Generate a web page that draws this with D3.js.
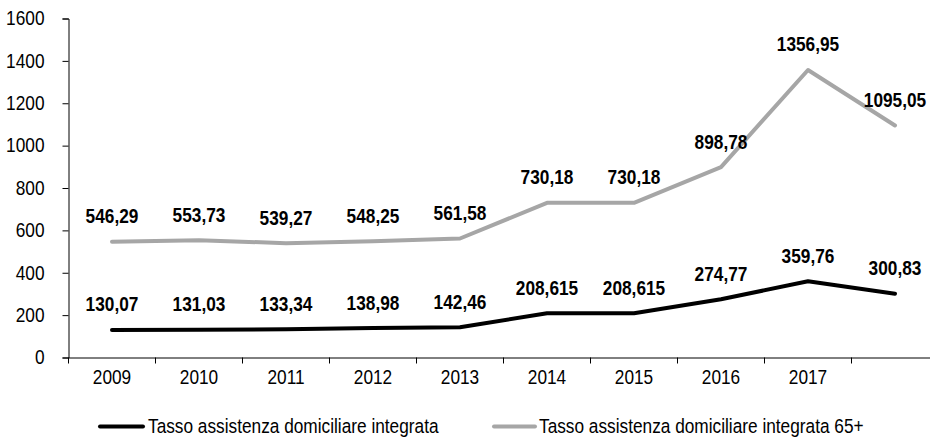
<!DOCTYPE html>
<html><head><meta charset="utf-8">
<script src="https://cdn.jsdelivr.net/npm/d3@7"></script>
<style>
html,body{margin:0;padding:0;background:#fff;}
svg{display:block;}
text{font-family:"Liberation Sans",Arial,sans-serif;}
</style></head>
<body>
<script>
const categories = ["2009","2010","2011","2012","2013","2014","2015","2016","2017","2018"];
const categoryLabels = ["2009","2010","2011","2012","2013","2014","2015","2016","2017",""];
const seriesNames = ["Tasso assistenza domiciliare integrata","Tasso assistenza domiciliare integrata 65+"];
const adi = [130.07,131.03,133.34,138.98,142.46,208.615,208.615,274.77,359.76,300.83];
const adi65 = [546.29,553.73,539.27,548.25,561.58,730.18,730.18,898.78,1356.95,1095.05];
const yTicks = [0,200,400,600,800,1000,1200,1400,1600];
const colors = ["#000000","#a6a6a6"];

const W=930,H=437, NARROW=0.885;
const svg=d3.select("body").append("svg").attr("width",W).attr("height",H);
const x=d3.scaleBand().domain(categories).range([68.5,938.5]).padding(0);
const y=d3.scaleLinear().domain([0,1600]).range([357.5,18.5]);

function narrow(sel){
  sel.each(function(){
    const t=d3.select(this);
    const xv=+(t.attr("x")||0);
    t.attr("x",0).attr("transform",`translate(${xv},0) scale(${NARROW},1)`);
  });
}

// y axis
const ya=svg.append("g").attr("transform","translate(68.5,0)")
 .call(d3.axisLeft(y).tickValues(yTicks).tickSize(6).tickPadding(18).tickFormat(d3.format("d")));
ya.selectAll("text").attr("font-size",19.5).attr("fill","#000").attr("font-family","Liberation Sans, Arial, sans-serif");
ya.select(".domain").attr("stroke","#000");
ya.selectAll(".tick line").attr("stroke","#000");
narrow(ya.selectAll("text"));

// x axis
const xa=svg.append("g").attr("transform","translate(0,357.5)")
 .call(d3.axisBottom(x).tickSize(0).tickPadding(13).tickFormat((d,i)=>categoryLabels[i]));
xa.select(".domain").attr("stroke","#000");
xa.selectAll("text").attr("font-size",19.5).attr("fill","#000").attr("dy","0.71em").attr("font-family","Liberation Sans, Arial, sans-serif");
narrow(xa.selectAll("text"));
xa.selectAll(".bt").data(categories.concat(["end"])).enter().append("line")
 .attr("x1",d=>d==="end"?x.range()[1]:x(d)).attr("x2",d=>d==="end"?x.range()[1]:x(d))
 .attr("y1",0).attr("y2",6).attr("stroke","#000");

const series=[adi,adi65];
const line=d3.line().x((d,i)=>x(categories[i])+x.bandwidth()/2).y(d=>y(d));
series.forEach((s,k)=>{
  svg.append("path").datum(s).attr("d",line).attr("fill","none")
    .attr("stroke",colors[k]).attr("stroke-width",4).attr("stroke-linecap","round").attr("stroke-linejoin","round");
  const lab=svg.selectAll(null).data(s).enter().append("text")
    .attr("x",(d,i)=>x(categories[i])+x.bandwidth()/2)
    .attr("y",d=>y(d)-18.5)
    .attr("text-anchor","middle").attr("font-size",19.5).attr("font-weight","bold").attr("fill","#000")
    .text(d=>String(d).replace(".",","));
  narrow(lab);
});

// legend
const leg=[{x1:100,x2:143,tx:148},{x1:494,x2:535,tx:539}];
leg.forEach((l,k)=>{
  svg.append("line").attr("x1",l.x1).attr("x2",l.x2).attr("y1",426.5).attr("y2",426.5)
    .attr("stroke",colors[k]).attr("stroke-width",4).attr("stroke-linecap","round");
  const t=svg.append("text").attr("x",l.tx).attr("y",433).attr("font-size",19.5).attr("fill","#000").text(seriesNames[k]);
  narrow(t);
});
</script>
</body></html>
